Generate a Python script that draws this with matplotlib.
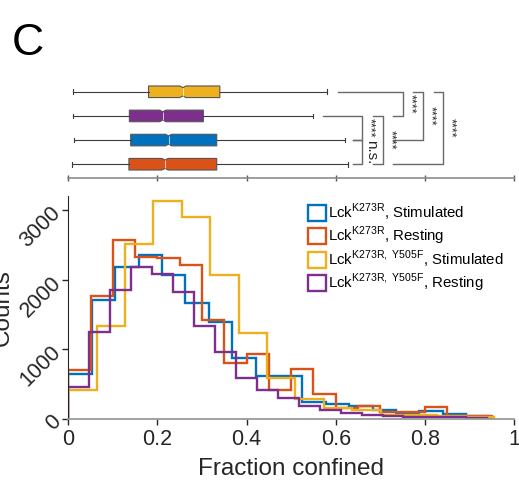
import numpy as np
import matplotlib
matplotlib.use('Agg')
import matplotlib.pyplot as plt
from matplotlib.patches import Rectangle

plt.rcParams['font.family'] = ['Liberation Sans', 'DejaVu Sans']

# histogram data (bin width + counts per bin)
stim_width = 0.0525
stim_counts = [646, 1703, 2181, 2359, 2062, 1656, 1392, 867, 620, 615,
               245, 215, 185, 120, 80, 105, 65, 35]
rest_width = 0.05
rest_counts = [700, 1761, 2564, 2325, 2310, 2206, 1416, 795, 935, 412,
               713, 352, 153, 182, 92, 92, 175, 43, 43]
yf_stim_width = 0.0637
yf_stim_counts = [412, 1335, 2507, 3124, 2899, 2062, 1234, 587, 283, 149,
                  120, 60, 55, 45, 25]
yf_rest_width = 0.047
yf_rest_counts = [459, 1249, 1847, 2181, 2076, 1823, 1330, 955, 589, 415,
                  304, 180, 120, 77, 53, 45, 22, 20, 18, 15]

labels = [r'Lck$^{\mathregular{K273R}}$, Stimulated',
          r'Lck$^{\mathregular{K273R}}$, Resting',
          r'Lck$^{\mathregular{K273R,\ Y505F}}$, Stimulated',
          r'Lck$^{\mathregular{K273R,\ Y505F}}$, Resting']
colors = ['#0072BD', '#D95319', '#EDB120', '#7E2F8E']

# box plot summary (bottom to top: resting, stimulated, YF resting, YF stimulated)
box_q1 = [0.136, 0.140, 0.137, 0.180]
box_med = [0.217, 0.225, 0.212, 0.257]
box_q3 = [0.333, 0.333, 0.303, 0.340]
box_lo = [0.009, 0.013, 0.010, 0.011]
box_hi = [0.628, 0.621, 0.548, 0.580]
box_colors = ['#D95319', '#0072BD', '#7E2F8E', '#EDB120']

# significance brackets: (row1, row2, x_top_start, x_bottom_start, x_vert, label)
brackets = [(3, 2, 0.571, 0.639, 0.658, '****'),
            (2, 1, 0.639, 0.639, 0.658, 'n.s.'),
            (3, 1, 0.684, 0.684, 0.705, '****'),
            (4, 3, 0.606, 0.729, 0.750, '****'),
            (4, 2, 0.774, 0.729, 0.795, '****'),
            (4, 1, 0.820, 0.729, 0.840, '****')]

fig = plt.figure(figsize=(5.19, 4.83), dpi=100)

# ---- histogram panel
ax = fig.add_axes([0.1316, 0.1331, 0.8588, 0.461])
hists = [(stim_width, stim_counts), (rest_width, rest_counts),
         (yf_stim_width, yf_stim_counts), (yf_rest_width, yf_rest_counts)]
for (w, cnt), c in zip(hists, colors):
    edges = np.arange(len(cnt) + 1) * w
    ax.stairs(cnt, edges, baseline=0, color=c, lw=1.7)

ax.set_xlim(0, 1)
ax.set_ylim(0, 3200)
ax.set_xticks([0, 0.2, 0.4, 0.6, 0.8, 1])
ax.set_xticklabels(['0', '0.2', '0.4', '0.6', '0.8', '1'])
ax.set_yticks([0, 1000, 2000, 3000])
ax.set_yticklabels(['0', '1000', '2000', '3000'], rotation=45,
                   ha='right', va='center', rotation_mode='anchor')
ax.tick_params(labelsize=15.5, length=4, width=1, colors='#262626')
ax.spines['top'].set_visible(False)
ax.spines['right'].set_visible(False)
ax.spines['left'].set_color('#262626')
ax.spines['bottom'].set_color('#9a9a9a')
ax.spines['bottom'].set_linewidth(1.3)
ax.set_xlabel('Fraction confined', fontsize=17.5, color='#262626', labelpad=6)
ax.set_ylabel('Counts', fontsize=17.5, color='#262626')
ax.yaxis.set_label_coords(-0.122, 0.5)

handles = [Rectangle((0, 0), 1, 1, facecolor='white', edgecolor=c, lw=1.7)
           for c in colors]
ax.legend(handles, labels, loc='upper left', bbox_to_anchor=(0.537, 0.975),
          frameon=False, fontsize=10.8, handlelength=1.25, handleheight=1.25,
          handletextpad=0.12, labelspacing=0.12, borderpad=0, borderaxespad=0)

# ---- box plot panel
axb = fig.add_axes([0.1316, 0.631, 0.8588, 0.205])
box_w = 0.48
stats = []
for i in range(4):
    stats.append(dict(q1=box_q1[i], med=box_med[i], q3=box_q3[i],
                      whislo=box_lo[i], whishi=box_hi[i],
                      cilo=box_med[i] - 0.007, cihi=box_med[i] + 0.007,
                      fliers=[]))
bp = axb.bxp(stats, positions=[1, 2, 3, 4], orientation='horizontal',
             widths=box_w, capwidths=0.2, shownotches=True, patch_artist=True,
             showfliers=False,
             boxprops=dict(edgecolor='#555555', lw=0.8),
             whiskerprops=dict(color='#3a3a3a', lw=0.8),
             capprops=dict(color='#3a3a3a', lw=0.8),
             medianprops=dict(color='white', lw=0.5))
for pos, patch, c in zip([1, 2, 3, 4], bp['boxes'], box_colors):
    patch.set_facecolor(c)
    # make the notch shallower than matplotlib's default
    verts = patch.get_path().vertices
    for v in verts:
        d = v[1] - pos
        if abs(abs(d) - box_w / 4) < 1e-6:
            v[1] = pos + np.sign(d) * box_w * 0.36
for med_line, pos in zip(bp['medians'], [1, 2, 3, 4]):
    med_line.set_ydata([pos - box_w * 0.36, pos + box_w * 0.36])

for r1, r2, xt, xb, xv, lab in brackets:
    axb.plot([xt, xv, xv, xb], [r1, r1, r2, r2], color='#6a6a6a', lw=1)
    ym = (r1 + r2) / 2
    if lab == 'n.s.':
        axb.text(xv + 0.005, ym, lab, rotation=-90, fontsize=11,
                 ha='left', va='center', color='#262626')
    else:
        axb.text(xv + 0.003, ym, lab, rotation=-90, fontsize=9,
                 ha='left', va='center', color='#262626')

axb.set_xlim(0, 1)
axb.set_ylim(0.42, 4.52)
axb.set_xticks([0, 0.2, 0.4, 0.6, 0.8, 1])
axb.set_xticklabels([])
axb.set_yticks([])
axb.tick_params(axis='x', direction='inout', length=5, width=1, colors='#555555')
for s in ['top', 'right', 'left']:
    axb.spines[s].set_visible(False)
axb.spines['bottom'].set_color('#8c8c8c')
axb.spines['bottom'].set_linewidth(1.2)

fig.text(0.022, 0.886, 'C', fontsize=32, color='black')

fig.savefig('out.png', dpi=100)
